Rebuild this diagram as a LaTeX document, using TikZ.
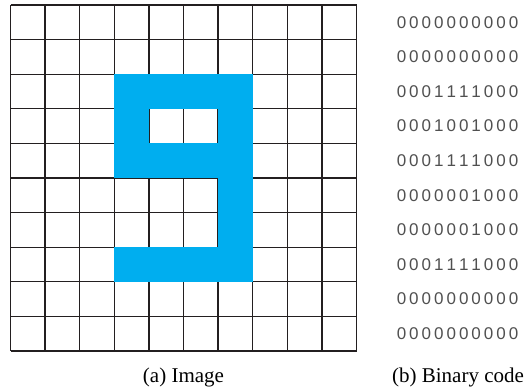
\documentclass[tikz,border=0pt]{standalone}
\usepackage{fontspec}
\setmainfont{Liberation Serif}
\newfontfamily\bitfont{Liberation Sans}
\definecolor{cellblue}{HTML}{00AEEF}
\definecolor{gridline}{HTML}{231F20}
\definecolor{bitgray}{HTML}{505050}
\tikzset{
  gridln/.style={draw=gridline, line width=1.3pt},
  bitnode/.style={inner sep=0pt, text=bitgray, font=\bitfont\fontsize{17}{20}\selectfont},
  caption/.style={inner sep=0pt, anchor=base, text=black, font=\fontsize{21}{25}\selectfont}
}
\begin{document}
\begin{tikzpicture}[x=1pt,y=-1pt]
\useasboundingbox (0,0) rectangle (528,391);
\def\cs{34.6}
\def\gx{10.5}
\def\gy{5}
% grid
\foreach \i in {0,...,10} {
  \draw[gridln] (\gx+\i*\cs, \gy) -- (\gx+\i*\cs, \gy+10*\cs);
  \draw[gridln] (\gx, \gy+\i*\cs) -- (\gx+10*\cs, \gy+\i*\cs);
}
% cells and binary code
\foreach \row [count=\r from 0] in {
  {0,0,0,0,0,0,0,0,0,0},
  {0,0,0,0,0,0,0,0,0,0},
  {0,0,0,1,1,1,1,0,0,0},
  {0,0,0,1,0,0,1,0,0,0},
  {0,0,0,1,1,1,1,0,0,0},
  {0,0,0,0,0,0,1,0,0,0},
  {0,0,0,0,0,0,1,0,0,0},
  {0,0,0,1,1,1,1,0,0,0},
  {0,0,0,0,0,0,0,0,0,0},
  {0,0,0,0,0,0,0,0,0,0}} {
  \foreach \b [count=\c from 0] in \row {
    \ifnum\b=1
      \fill[cellblue] (\gx+\c*\cs-0.2, \gy+\r*\cs-0.2) rectangle (\gx+\c*\cs+\cs+0.2, \gy+\r*\cs+\cs+0.2);
    \fi
    \node[bitnode] (b-\r-\c) at (401.5+\c*12.45, \gy+\r*\cs+\cs/2) {\b};
  }
}
% captions
\node[caption] (capa) at (183.5, 382) {(a) Image};
\node[caption] (capb) at (458, 382) {(b) Binary code};
\end{tikzpicture}
\end{document}
